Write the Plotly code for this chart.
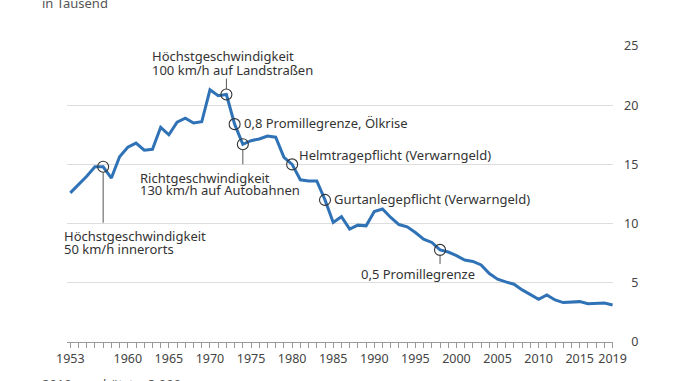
import plotly.graph_objects as go

years = list(range(1953, 2020))
deaths = [12.6, 13.3, 14.0, 14.8, 14.8, 13.85, 15.65, 16.45, 16.8, 16.2, 16.27, 18.13,
          17.5, 18.56, 18.9, 18.5, 18.6, 21.3, 20.8, 20.9, 18.4, 16.7, 17.0, 17.15,
          17.4, 17.3, 15.6, 15.0, 13.7, 13.6, 13.6, 12.0, 10.1, 10.58, 9.53, 9.87,
          9.81, 11.02, 11.23, 10.52, 9.92, 9.73, 9.25, 8.69, 8.41, 7.78, 7.6, 7.3,
          6.92, 6.8, 6.51, 5.78, 5.3, 5.08, 4.88, 4.4, 4.03, 3.61, 3.98, 3.55,
          3.33, 3.36, 3.41, 3.24, 3.24, 3.3, 3.13]

x_label_years = [1953, 1960, 1965, 1970, 1975, 1980, 1985, 1990, 1995, 2000, 2005, 2010, 2015, 2019]
y_ticks = [0, 5, 10, 15, 20, 25]

event_years = [1957, 1972, 1973, 1974, 1980, 1984, 1998]
event_labels = [
    ["Höchstgeschwindigkeit", "50 km/h innerorts"],
    ["Höchstgeschwindigkeit", "100 km/h auf Landstraßen"],
    ["0,8 Promillegrenze, Ölkrise"],
    ["Richtgeschwindigkeit", "130 km/h auf Autobahnen"],
    ["Helmtragepflicht (Verwarngeld)"],
    ["Gurtanlegepflicht (Verwarngeld)"],
    ["0,5 Promillegrenze"],
]
title_text = "in Tausend"
footnote_text = "2019 geschätzt = 3.090"

# layout (pixel offsets relative to event marker)
label_xshift = [-39, -74, 9.5, -103, 7, 9, -79]
label_yshift = [[-69.7, -82.3], [39, 25], [1], [-33.4, -46], [9], [1], [-23.7]]
leader = {1957: (-5.5, -56), 1972: (5.5, 16), 1974: (-5.5, -20), 1998: (-5.5, -14)}

FONT = "Noto Sans"
TXT = "#333333"
BLUE = "#2f72b6"

val = dict(zip(years, deaths))
ev_vals = [val[y] for y in event_years]

fig = go.Figure()
fig.add_trace(go.Scatter(x=years, y=deaths, mode="lines",
                         line=dict(color=BLUE, width=3), hoverinfo="skip"))
fig.add_trace(go.Scatter(x=event_years, y=ev_vals, mode="markers",
                         marker=dict(symbol="circle-open", size=11,
                                     color="#333333", line=dict(width=1.1)),
                         hoverinfo="skip", cliponaxis=False))

annotations = []
for yr, v, lines, xs, yss in zip(event_years, ev_vals, event_labels, label_xshift, label_yshift):
    for ln, ys in zip(lines, yss):
        annotations.append(dict(x=yr, y=v, xref="x", yref="y", text=ln, showarrow=False,
                                xanchor="left", yanchor="middle", xshift=xs, yshift=ys,
                                borderpad=0, borderwidth=0,
                                font=dict(family=FONT, size=13, color=TXT)))

annotations.append(dict(x=0, y=1, xref="paper", yref="paper", text=title_text,
                        showarrow=False, xanchor="left", yanchor="middle",
                        xshift=-27, yshift=43, font=dict(family=FONT, size=13, color="#555555")))
annotations.append(dict(x=0, y=0, xref="paper", yref="paper", text=footnote_text,
                        showarrow=False, xanchor="left", yanchor="middle",
                        xshift=-27, yshift=-42, font=dict(family=FONT, size=13, color="#555555")))

shapes = []
for yr, (a, b) in leader.items():
    shapes.append(dict(type="line", xref="x", yref="y", ysizemode="pixel", yanchor=val[yr],
                       x0=yr, x1=yr, y0=a, y1=b, line=dict(color="#555555", width=1)))

tick_text = [str(y) if y in x_label_years else "" for y in years]
y_tick_text = [("\u2007" + str(t)) if t < 10 else str(t) for t in y_ticks]

fig.update_layout(
    width=678, height=381,
    margin=dict(l=67, r=65, t=46, b=39),
    paper_bgcolor="white", plot_bgcolor="white",
    showlegend=False,
    hovermode=False,
    annotations=annotations,
    shapes=shapes,
    font=dict(family=FONT, color="#444444"),
    xaxis=dict(range=[1952.6, 2019.05], tickvals=years, ticktext=tick_text,
               ticks="outside", ticklen=5, tickcolor="#9a9a9a", tickwidth=1,
               showline=True, linecolor="#9a9a9a", linewidth=1,
               showgrid=False, zeroline=False, fixedrange=True,
               tickfont=dict(family=FONT, size=12.5, color="#444444")),
    yaxis=dict(range=[0, 25], side="right", tickvals=y_ticks, ticktext=y_tick_text,
               showgrid=True, gridcolor="#dddddd", gridwidth=1, zeroline=False,
               ticks="", ticklabelstandoff=10, fixedrange=True,
               tickfont=dict(family=FONT, size=12.5, color="#444444")),
)

fig.write_html("out.html", config={"displayModeBar": False, "staticPlot": True},
               post_script="document.body.style.margin='0';document.body.style.padding='0';")
